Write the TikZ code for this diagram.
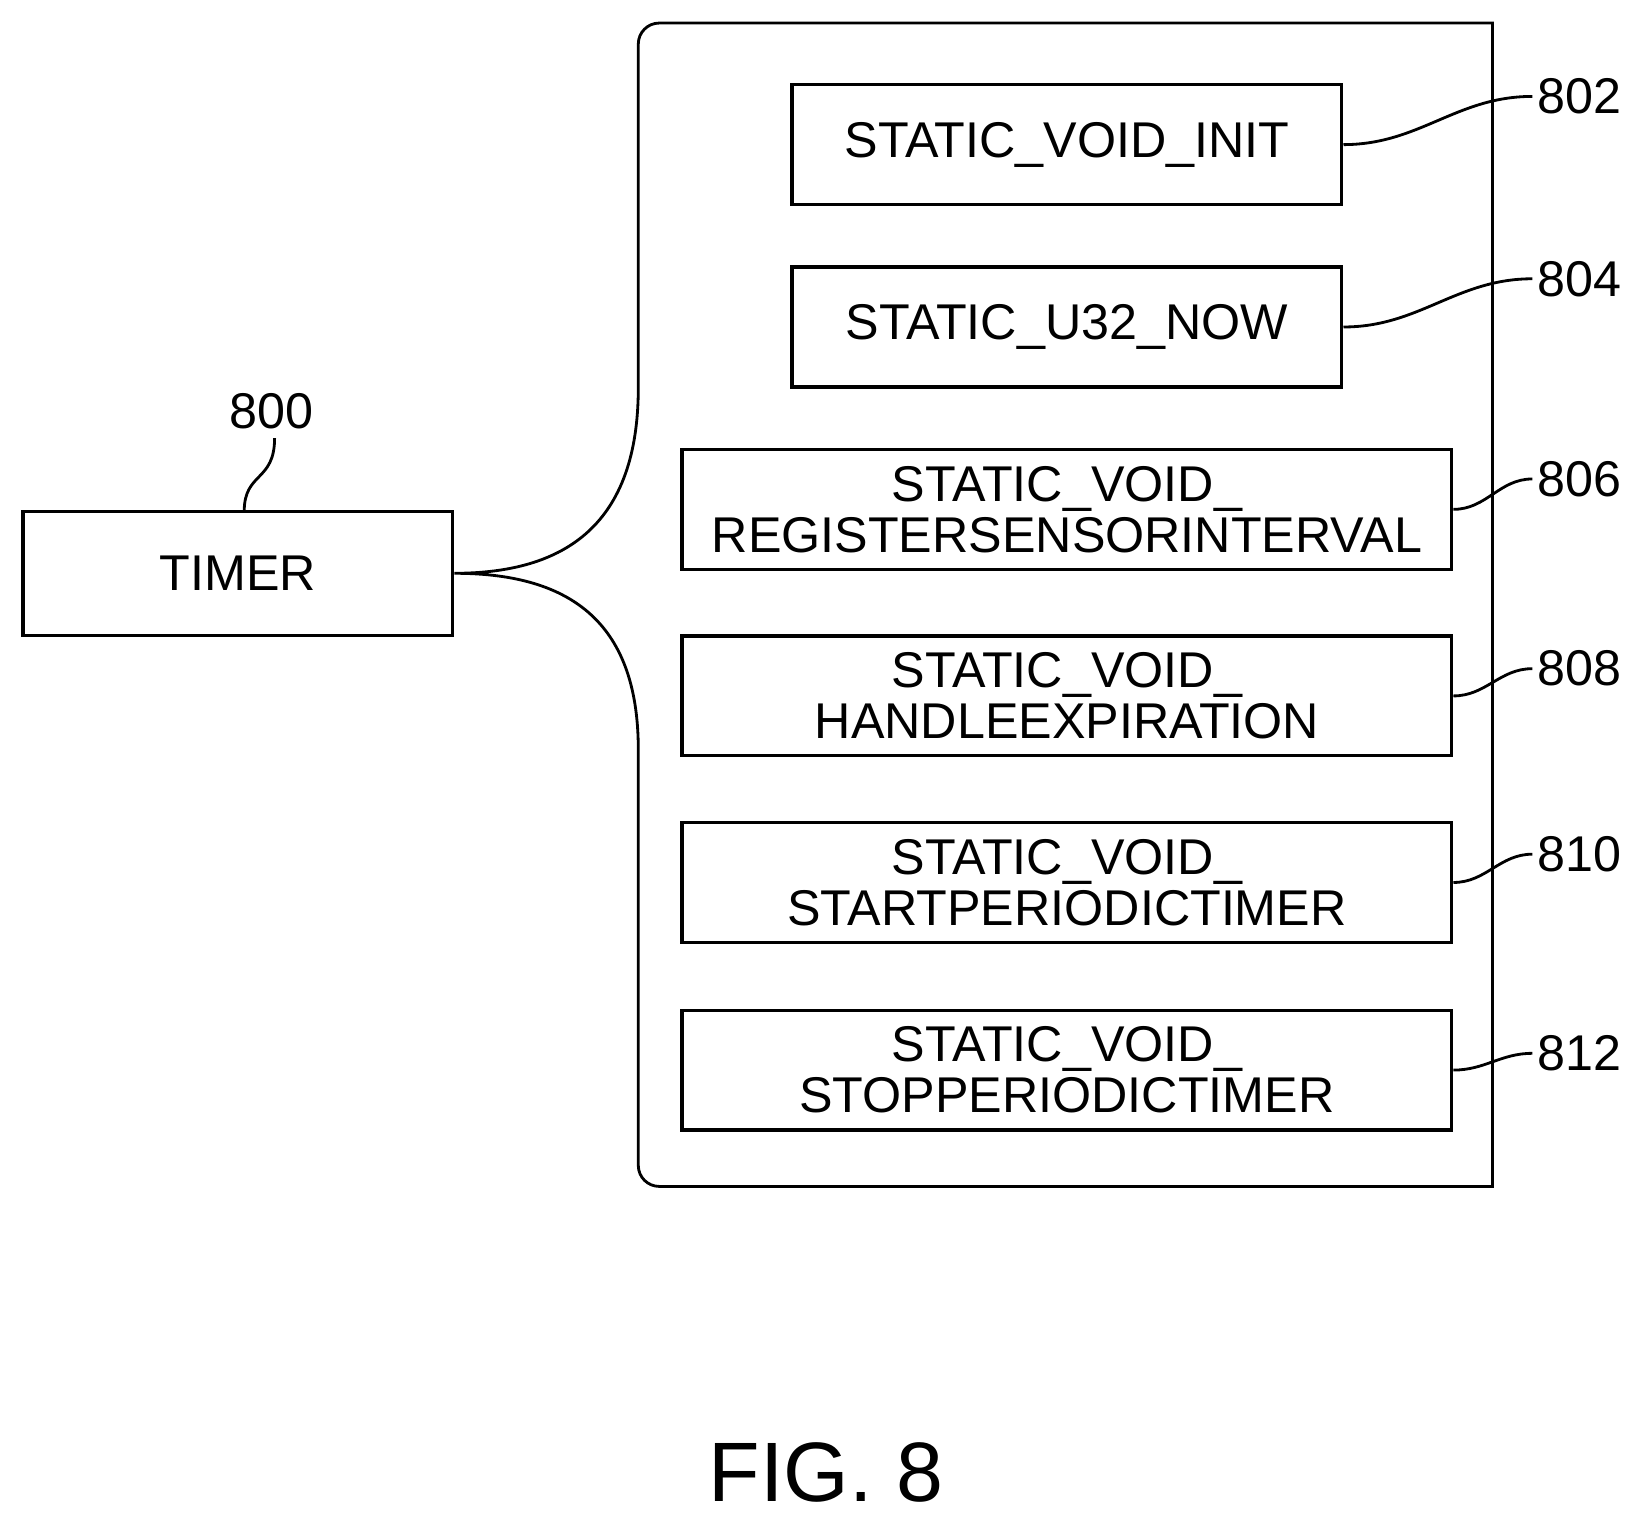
\documentclass[tikz,border=0pt]{standalone}
\usepackage{fontspec}
\setmainfont{Liberation Sans}
\begin{document}
\begin{tikzpicture}[x=0.01048cm,y=0.01048cm,line width=0.8pt,
  box/.style={draw,line width=0.9pt,minimum height=1.2cm,align=center,font=\fontsize{14.3}{16.5}\selectfont,inner sep=0pt},
  num/.style={font=\fontsize{14.3}{16.5}\selectfont,inner sep=1pt}]
\useasboundingbox (0,0) rectangle (1560,-1454);
\node [box,minimum width=4.3cm,minimum height=1.24cm] (timer) at (227,-547) {TIMER};
\node [num] (n800) at (259,-392) {800};
\draw (233,-488) .. controls (233,-450) and (262,-460) .. (262,-418);
\node [box,minimum width=5.5cm] (b802) at (1018,-138) {STATIC\_VOID\_INIT};
\node [box,minimum width=5.5cm] (b804) at (1018,-312) {STATIC\_U32\_NOW};
\node [box,minimum width=7.7cm] (b806) at (1018,-486) {STATIC\_VOID\_\\[-2pt]REGISTERSENSORINTERVAL};
\node [box,minimum width=7.7cm] (b808) at (1018,-664) {STATIC\_VOID\_\\[-2pt]HANDLEEXPIRATION};
\node [box,minimum width=7.7cm] (b810) at (1018,-842) {STATIC\_VOID\_\\[-2pt]STARTPERIODICTIMER};
\node [box,minimum width=7.7cm] (b812) at (1018,-1021) {STATIC\_VOID\_\\[-2pt]STOPPERIODICTIMER};
\node [num,anchor=west] (n802) at (1462,-92) {802};
\node [num,anchor=west] (n804) at (1462,-266) {804};
\node [num,anchor=west] (n806) at (1462,-457) {806};
\node [num,anchor=west] (n808) at (1462,-638) {808};
\node [num,anchor=west] (n810) at (1462,-815) {810};
\node [num,anchor=west] (n812) at (1462,-1005) {812};
\foreach \i in {802,804,806,808,810,812}
  \draw (b\i.east) to[out=0,in=180] (n\i.west);
% outline of the group
\draw (1424,-1132) -- (1424,-22) -- (629,-22) arc[start angle=90,end angle=180,radius=20] -- (609,-370)
  .. controls (609,-500) and (540,-547) .. (timer.east)
  .. controls (540,-547) and (609,-590) .. (609,-715) -- (609,-1112)
  arc[start angle=180,end angle=270,radius=20] -- cycle;
\node [font=\fontsize{24}{28}\selectfont] (fig) at (788,-1405) {FIG. 8};
\end{tikzpicture}
\end{document}
